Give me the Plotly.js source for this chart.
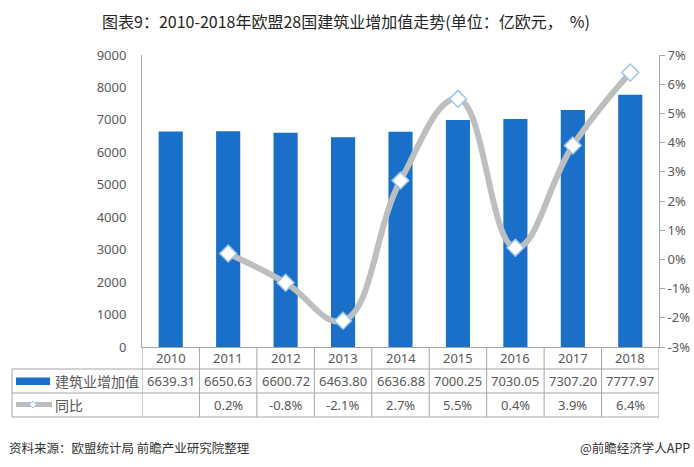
<!DOCTYPE html>
<html>
<head>
<meta charset="utf-8">
<script src="https://cdn.plot.ly/plotly-3.0.1.min.js"></script>
<style>
html,body{margin:0;padding:0;background:#fff;}
#chart{width:694px;height:467px;}
</style>
</head>
<body>
<div id="chart"></div>
<script>
const years = ['2010','2011','2012','2013','2014','2015','2016','2017','2018'];
const valueAdded = [6639.31, 6650.63, 6600.72, 6463.80, 6636.88, 7000.25, 7030.05, 7307.20, 7777.97];
const yoy = [null, 0.2, -0.8, -2.1, 2.7, 5.5, 0.4, 3.9, 6.4];
const leftTickVals = [0,1000,2000,3000,4000,5000,6000,7000,8000,9000];
const rightTickVals = [-3,-2,-1,0,1,2,3,4,5,6,7];
const rightTickText = ['-3%','-2%','-1%','0%','1%','2%','3%','4%','5%','6%','7%'];
const seriesNames = ['建筑业增加值','同比'];
const titleText = '图表9：2010-2018年欧盟28国建筑业增加值走势(单位：亿欧元，  %)';
const sourceText = '资料来源：欧盟统计局 前瞻产业研究院整理';
const brandText = '@前瞻经济学人APP';

const W = 694, H = 467;
const M = {l:142, r:35, t:55, b:120};
const plotH = H - M.t - M.b;
const plotW = W - M.l - M.r;
const py = Y => (H - M.b - Y) / plotH;
const px = X => (X - M.l) / plotW;

const FONT = '"Noto Sans", "Noto Sans CJK SC", sans-serif';
const CJK = '"Noto Sans CJK SC", "Noto Sans", sans-serif';
const TXT = '#595959';
const GRID = '#A6A6A6';
const BLUE = '#1A6FC9';
const LINEGRAY = '#BCBEC0';

const traces = [
  {
    type:'bar', x: years, y: valueAdded, name: seriesNames[0],
    marker:{color: BLUE}, yaxis:'y', hoverinfo:'skip'
  },
  {
    type:'scatter', mode:'lines+markers', x: years, y: yoy, name: seriesNames[1],
    yaxis:'y2', connectgaps:false,
    line:{color: LINEGRAY, width:6, shape:'spline', smoothing:1.2},
    marker:{symbol:'diamond', size:13, color:'#ffffff', line:{color:'#9CC5F2', width:1.5}},
    hoverinfo:'skip'
  }
];

const annotations = [];
const shapes = [];
const rowYear = 358, rowVal = 381, rowYoy = 405;
years.forEach((yr, i) => {
  annotations.push({x: i, xref:'x', y: py(rowYear), yref:'paper', text: yr, showarrow:false,
    font:{family:FONT, size:13, color:TXT}, xanchor:'center', yanchor:'middle'});
  annotations.push({x: i, xref:'x', y: py(rowVal), yref:'paper', text: valueAdded[i].toFixed(2), showarrow:false,
    font:{family:FONT, size:13, color:TXT}, xanchor:'center', yanchor:'middle'});
  if (yoy[i] !== null) {
    annotations.push({x: i, xref:'x', y: py(rowYoy), yref:'paper', text: yoy[i].toFixed(1) + '%', showarrow:false,
      font:{family:FONT, size:13, color:TXT}, xanchor:'center', yanchor:'middle'});
  }
});
// row labels
annotations.push({x: px(53), xref:'paper', y: py(rowVal), yref:'paper', text: seriesNames[0], showarrow:false,
  font:{family:CJK, size:14, color:TXT}, xanchor:'left', yanchor:'middle'});
annotations.push({x: px(53), xref:'paper', y: py(rowYoy), yref:'paper', text: seriesNames[1], showarrow:false,
  font:{family:CJK, size:14, color:TXT}, xanchor:'left', yanchor:'middle'});
// footer
annotations.push({x: px(7), xref:'paper', y: py(447), yref:'paper', text: sourceText, showarrow:false,
  font:{family:CJK, size:12.5, color:'#333333'}, xanchor:'left', yanchor:'middle'});
annotations.push({x: px(692), xref:'paper', y: py(447), yref:'paper', text: brandText, showarrow:false,
  font:{family:CJK, size:12.5, color:'#333333'}, xanchor:'right', yanchor:'middle'});

// table grid
const line = {color: GRID, width: 1};
for (let i = 0; i <= years.length; i++) {
  shapes.push({type:'line', xref:'x', yref:'paper', x0: i - 0.5, x1: i - 0.5, y0: py(347), y1: py(417), line});
}
shapes.push({type:'line', xref:'paper', yref:'paper', x0: px(12), x1: px(12), y0: py(369), y1: py(417), line});
shapes.push({type:'line', xref:'paper', yref:'paper', x0: 0, x1: 1, y0: py(369), y1: py(369), line});
shapes.push({type:'line', xref:'paper', yref:'paper', x0: px(12), x1: 0, y0: py(369), y1: py(369), line});
[393, 417].forEach(Y => {
  shapes.push({type:'line', xref:'paper', yref:'paper', x0: px(12), x1: 1, y0: py(Y), y1: py(Y), line});
});
// legend swatches
shapes.push({type:'rect', xref:'paper', yref:'paper', x0: px(16), x1: px(50), y0: py(377.5), y1: py(385), line:{width:0}, fillcolor: BLUE});
shapes.push({type:'line', xref:'paper', yref:'paper', x0: px(16), x1: px(52), y0: py(404.5), y1: py(404.5), line:{color: LINEGRAY, width:5}});
shapes.push({type:'path', xref:'paper', yref:'paper',
  path: `M ${px(29.5)} ${py(404.5)} L ${px(33)} ${py(401)} L ${px(36.5)} ${py(404.5)} L ${px(33)} ${py(408)} Z`,
  fillcolor:'#ffffff', line:{color:'#9CC5F2', width:1}});

const layout = {
  width: W, height: H, autosize:false,
  margin: M,
  paper_bgcolor:'#ffffff', plot_bgcolor:'#ffffff',
  showlegend:false,
  bargap: 0.58,
  title:{text: titleText, x: 346/W, xref:'container', xanchor:'center', y: 1 - 22/H, yref:'container', yanchor:'middle',
    font:{family:CJK, size:16, color:'#262626'}},
  xaxis:{type:'category', categoryorder:'array', categoryarray: years, range:[-0.5, 8.5],
    showticklabels:false, ticks:'', showgrid:false, showline:true, linecolor: GRID, linewidth:1, zeroline:false, fixedrange:true},
  yaxis:{range:[0, 9000], tickvals: leftTickVals, ticktext: leftTickVals.map(String), showgrid:false, zeroline:false,
    showline:true, linecolor: GRID, linewidth:1, ticks:'', ticklabelstandoff: 12,
    tickfont:{family:FONT, size:13, color:TXT}, fixedrange:true},
  yaxis2:{overlaying:'y', side:'right', range:[-3, 7], tickvals: rightTickVals, ticktext: rightTickText,
    showgrid:false, zeroline:false, showline:true, linecolor: GRID, linewidth:1,
    ticks:'outside', ticklen:5, tickcolor: GRID, tickfont:{family:FONT, size:13, color:TXT}, fixedrange:true},
  annotations, shapes
};

Plotly.newPlot('chart', traces, layout, {displayModeBar:false, staticPlot:true});
</script>
</body>
</html>
